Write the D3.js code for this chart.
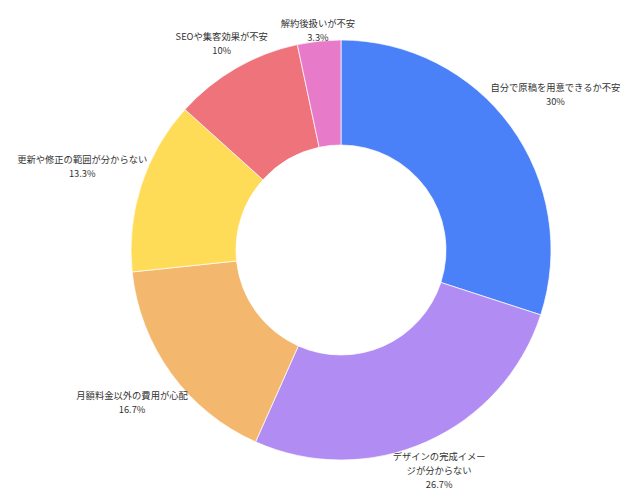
<!DOCTYPE html>
<html>
<head>
<meta charset="utf-8">
<script src="https://cdn.jsdelivr.net/npm/d3@7"></script>
<style>
  body { margin: 0; background: #fff; }
  text { font-family: "Noto Sans CJK JP", "Noto Sans", sans-serif; }
</style>
</head>
<body>
<div id="chart"></div>
<script>
var width = 640, height = 500;
var cx = 341, cy = 250;
var outerR = 210, innerR = 105;

var categories = [
  "自分で原稿を用意できるか不安",
  "デザインの完成イメー\nジが分からない",
  "月額料金以外の費用が心配",
  "更新や修正の範囲が分からない",
  "SEOや集客効果が不安",
  "解約後扱いが不安"
];
var counts = [9, 8, 5, 4, 3, 1];
var colours = ["#4a80f8", "#b18cf3", "#f3b86e", "#ffdc58", "#ef737b", "#e87bc9"];

var total = d3.sum(counts);

function pctText(v){
  var p = Math.round(v / total * 1000) / 10;
  return p + "%";
}

var svg = d3.select('#chart')
  .append('svg')
  .attr('width', width)
  .attr('height', height);

var g = svg.append('g').attr('transform', 'translate(' + cx + ',' + cy + ')');

var pie = d3.pie().sort(null).value(function(d){ return d; });
var arc = d3.arc().innerRadius(innerR).outerRadius(outerR);
var arcs = pie(counts);

g.selectAll('.slice').data(arcs)
  .enter().append('path')
  .attr('class', 'slice')
  .attr('d', arc)
  .style('fill', function(d, i){ return colours[i]; })
  .style('stroke', '#fff')
  .style('stroke-width', 0.7);

// labels: centred text, pushed out along the mid angle until the box clears the ring
var touchR = 206;
var labels = g.selectAll('.label').data(arcs)
  .enter().append('text')
  .attr('class', 'label')
  .attr('text-anchor', 'middle')
  .style('font-size', '9.3px')
  .style('fill', '#333');

labels.each(function(d, i){
  var lines = categories[i].split('\n').concat([pctText(d.value)]);
  var t = d3.select(this);
  lines.forEach(function(line, k){
    t.append('tspan').attr('x', 0).attr('dy', k === 0 ? 0 : 14).text(line);
  });
  var bb = this.getBBox();
  var a = bb.width / 2, b = bb.height / 2;
  var ang = (d.startAngle + d.endAngle) / 2;
  var ux = Math.sin(ang), uy = -Math.cos(ang);
  // bisection for distance of box centre
  var lo = 0, hi = 400;
  for (var n = 0; n < 40; n++){
    var D = (lo + hi) / 2;
    var nx = Math.max(0, Math.abs(D * ux) - a);
    var ny = Math.max(0, Math.abs(D * uy) - b);
    if (Math.sqrt(nx * nx + ny * ny) < touchR) lo = D; else hi = D;
  }
  var px = lo * ux, py = lo * uy;
  var midY = bb.y + bb.height / 2;
  t.attr('transform', 'translate(' + px + ',' + (py - midY) + ')');
});
</script>
</body>
</html>
